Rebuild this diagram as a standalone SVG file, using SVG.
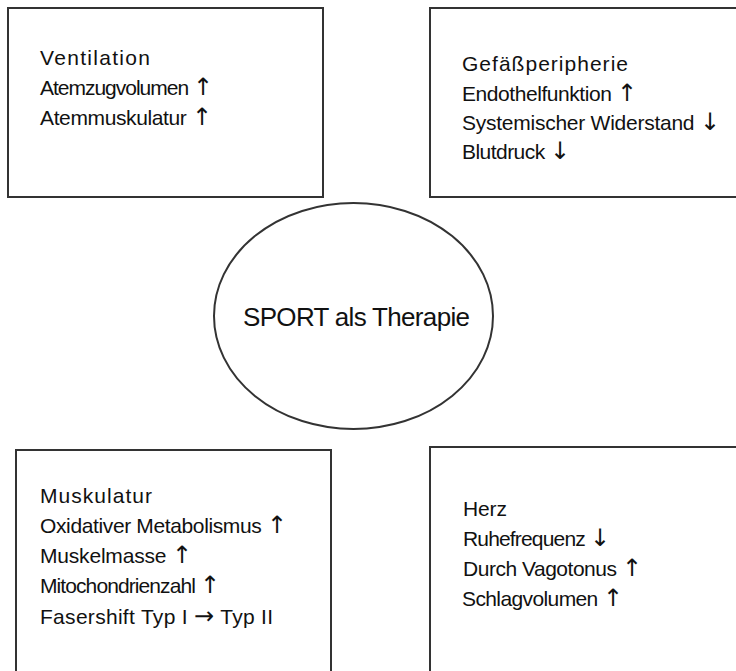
<svg xmlns="http://www.w3.org/2000/svg" width="736" height="671" viewBox="0 0 736 671">
<style>
.box{fill:#fff;stroke:#333;stroke-width:2}
.t{font-family:"Liberation Sans",Arial,sans-serif;font-size:21px;fill:#111}
.c{font-family:"Liberation Sans",Arial,sans-serif;font-size:26px;fill:#111}
.a{font-family:"DejaVu Sans",sans-serif;font-size:24px;fill:#111}
</style>
<rect width="736" height="671" fill="#fff"/>
<g id="ventilation">
<rect class="box" x="8" y="8" width="315" height="189"/>
<text class="t" x="40" y="65" textLength="110">Ventilation</text>
<text class="t" x="40" y="95" textLength="173">Atemzugvolumen <tspan class="a">↑</tspan></text>
<text class="t" x="40" y="125" textLength="172">Atemmuskulatur <tspan class="a">↑</tspan></text>
</g>
<g id="gefaess">
<rect class="box" x="430" y="8" width="310" height="189"/>
<text class="t" x="462" y="71" textLength="166">Gefäßperipherie</text>
<text class="t" x="462" y="101" textLength="175">Endothelfunktion <tspan class="a">↑</tspan></text>
<text class="t" x="462" y="130" textLength="258">Systemischer Widerstand <tspan class="a">↓</tspan></text>
<text class="t" x="462" y="159" textLength="108">Blutdruck <tspan class="a">↓</tspan></text>
</g>
<g id="sport">
<ellipse cx="353.5" cy="316" rx="139.5" ry="113" fill="#fff" stroke="#333" stroke-width="2"/>
<text class="c" x="243" y="326" textLength="227">SPORT als Therapie</text>
</g>
<g id="muskulatur">
<rect class="box" x="16" y="450" width="315" height="240"/>
<text class="t" x="40" y="503" textLength="112">Muskulatur</text>
<text class="t" x="40" y="533" textLength="247">Oxidativer Metabolismus <tspan class="a">↑</tspan></text>
<text class="t" x="40" y="563" textLength="152">Muskelmasse <tspan class="a">↑</tspan></text>
<text class="t" x="40" y="593" textLength="180">Mitochondrienzahl <tspan class="a">↑</tspan></text>
<text class="t" x="40" y="624" textLength="233">Fasershift Typ I <tspan class="a">→</tspan> Typ II</text>
</g>
<g id="herz">
<rect class="box" x="430" y="447" width="310" height="240"/>
<text class="t" x="463" y="516" textLength="44">Herz</text>
<text class="t" x="463" y="546" textLength="147">Ruhefrequenz <tspan class="a">↓</tspan></text>
<text class="t" x="463" y="576" textLength="179">Durch Vagotonus <tspan class="a">↑</tspan></text>
<text class="t" x="462" y="606" textLength="161">Schlagvolumen <tspan class="a">↑</tspan></text>
</g>
<g id="connectors"/>
</svg>
